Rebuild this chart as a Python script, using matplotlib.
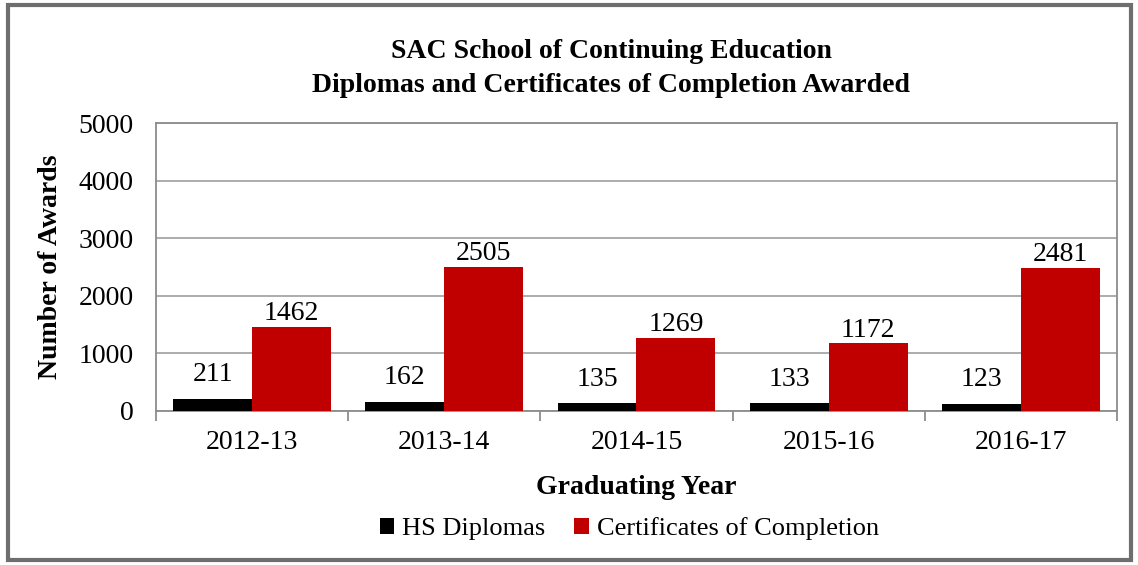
import matplotlib.pyplot as plt
import numpy as np
from matplotlib.patches import Rectangle

years = ["2012-13", "2013-14", "2014-15", "2015-16", "2016-17"]
hs_diplomas = [211, 162, 135, 133, 123]
certificates = [1462, 2505, 1269, 1172, 2481]

plt.rcParams['font.family'] = ['Liberation Serif', 'DejaVu Serif']
fs = 20

fig = plt.figure(figsize=(11.38, 5.65), dpi=100)
ax = fig.add_axes([0.137, 0.2726, 0.8446, 0.5097])

# outer chart border
fig.patches.append(Rectangle((0.007, 0.009), 0.987, 0.982, transform=fig.transFigure,
                             fill=False, edgecolor="#6e6e6e", linewidth=3))

x = np.arange(len(years))
w = 0.41
b1 = ax.bar(x - w/2, hs_diplomas, w, color="black", label="HS Diplomas", zorder=3)
b2 = ax.bar(x + w/2, certificates, w, color="#c00000", label="Certificates of Completion", zorder=3)

# value labels above bars (offset in data units)
for bars, vals, off in ((b1, hs_diplomas, 420), (b2, certificates, 230)):
    for r, v in zip(bars, vals):
        ax.text(r.get_x() + r.get_width()/2, v + off, str(v), ha="center", va="center",
                fontsize=fs)

ax.set_xlim(-0.5, len(years) - 0.5)
ax.set_ylim(0, 5000)
ax.set_yticks(range(0, 5001, 1000))
ax.yaxis.grid(True, color="#a6a6a6", linewidth=1.3, zorder=0)
ax.tick_params(axis="y", length=0, labelsize=fs, pad=16)

ax.set_xticks(x)
ax.set_xticklabels(years, fontsize=fs)
ax.set_xticks(np.arange(-0.5, len(years)), minor=True)
ax.tick_params(axis="x", which="major", length=0, pad=14)
ax.tick_params(axis="x", which="minor", length=7, color="#8c8c8c", width=1.3)

for s in ax.spines.values():
    s.set_color("#8c8c8c")
    s.set_linewidth(1.3)

ax.set_xlabel("Graduating Year", fontsize=fs, fontweight="bold", labelpad=14)
ax.set_ylabel("Number of Awards", fontsize=fs, fontweight="bold", labelpad=11)
fig.text(0.537, 0.879, "SAC School of Continuing Education\nDiplomas and Certificates of Completion Awarded",
         ha="center", va="center", fontsize=fs, fontweight="bold", linespacing=1.5)

fig.legend(handles=[b1, b2], loc="center", bbox_to_anchor=(0.553, 0.064), ncol=2, frameon=False,
           fontsize=19, handlelength=0.55, handleheight=0.55, handletextpad=0.3, columnspacing=1.1)

fig.savefig("out.png", dpi=100)
